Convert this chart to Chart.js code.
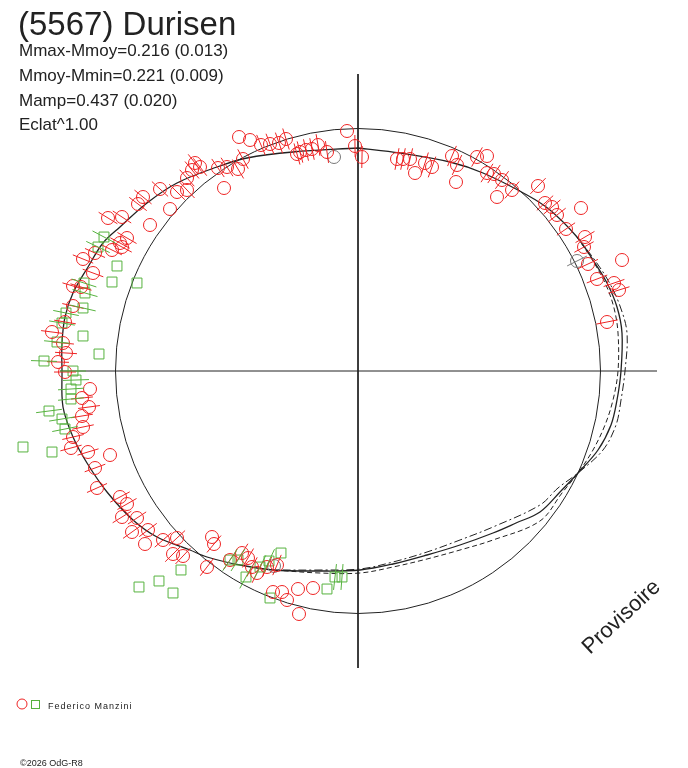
<!DOCTYPE html>
<html lang="fr">
<head>
<meta charset="UTF-8" />
<title>(5567) Durisen</title>
<script src="https://cdn.jsdelivr.net/npm/chart.js@4.4.1/dist/chart.umd.min.js"></script>
<style>
  body { margin: 0; background: #fff; }
  canvas { display: block; }
</style>
</head>
<body>
<canvas id="lc" width="688" height="768"></canvas>
<script>
// polar lightcurve: each point is [x, y, error] in flux units, reference circle = mean flux
const title = "(5567) Durisen";
const infoLines = ["Mmax-Mmoy=0.216 (0.013)", "Mmoy-Mmin=0.221 (0.009)", "Mamp=0.437 (0.020)", "Eclat^1.00"];
const observer = "Federico Manzini";
const stamp = "\u00a92026 OdG-R8";
const refRadius = 2.425;

const redObs = [
  [-1.19,2.34,0],[-1.08,2.31,0],[-0.97,2.26,.11],[-0.88,2.27,.11],[-0.79,2.28,.11],[-0.72,2.32,.11],
  [-0.61,2.17,.11],[-0.58,2.19,.11],[-0.52,2.21,.11],[-0.46,2.22,.11],[-0.40,2.26,.11],[-0.31,2.19,.11],
  [-0.11,2.40,0],[-0.03,2.25,.11],[0.04,2.14,.11],
  [-1.40,2.03,.11],[-1.31,2.04,.11],[-1.20,2.02,.11],[-1.15,2.12,.11],[-1.34,1.83,0],[-1.58,2.04,.11],
  [-1.63,2.08,.11],[-1.66,2.01,.11],[-1.71,1.93,.11],[-1.71,1.81,.11],[-1.81,1.79,.11],[-1.98,1.82,.11],
  [-1.88,1.62,0],[-2.15,1.74,.11],[-2.20,1.67,.11],[-2.08,1.46,0],[-2.50,1.53,.11],[-2.36,1.54,.11],
  [-2.31,1.33,.11],[-2.38,1.28,.11],
  [-2.36,1.24,.11],[-2.46,1.21,.11],[-2.63,1.18,.11],[-2.75,1.12,.11],[-2.65,0.98,.11],[-2.85,0.85,.11],
  [-2.77,0.84,.11],[-2.85,0.65,.11],[-2.93,0.49,.11],[-3.06,0.39,.11],[-2.95,0.28,.11],[-2.92,0.18,.11],
  [-3.00,0.09,.11],[-2.93,-0.01,.11],[-2.68,-0.18,0],[-2.76,-0.27,.11],[-2.69,-0.36,.11],[-2.76,-0.45,.11],
  [-2.75,-0.56,.11],[-2.85,-0.66,.11],[-2.87,-0.77,.11],[-2.70,-0.81,.11],[-2.48,-0.84,0],[-2.63,-0.97,.11],
  [-2.61,-1.17,.11],[-2.38,-1.26,.11],[-2.31,-1.33,.11],[-2.36,-1.46,.11],[-2.21,-1.47,.11],[-2.26,-1.61,.11],
  [-2.10,-1.59,.11],[-2.13,-1.73,0],[-1.95,-1.69,.11],[-1.81,-1.67,.11],[-1.85,-1.83,.11],[-1.75,-1.85,.11],
  [-1.46,-1.66,0],[-1.44,-1.73,.11],[-1.51,-1.96,.11],[-1.28,-1.89,.11],[-1.16,-1.82,.11],[-1.10,-1.87,.11],
  [-1.06,-1.96,.11],[-1.01,-2.02,.11],[-0.91,-1.96,.11],[-0.81,-1.94,.11],[-0.85,-2.21,0],[-0.76,-2.21,0],
  [-0.71,-2.29,0],[-0.60,-2.18,0],[-0.45,-2.17,0],[-0.59,-2.43,0],
  [0.39,2.12,.11],[0.45,2.12,.11],[0.52,2.12,.11],[0.57,1.98,0],[0.67,2.08,.11],[0.74,2.04,.11],
  [0.94,2.15,.11],[0.99,2.06,.11],[0.98,1.89,0],[1.19,2.14,.11],[1.29,2.15,0],[1.29,1.98,.11],
  [1.36,1.97,.11],[1.44,1.91,.11],[1.39,1.74,0],[1.54,1.81,.11],[1.80,1.85,.11],[1.87,1.68,.11],
  [1.94,1.64,.11],[1.99,1.56,.11],[2.23,1.63,0],[2.08,1.42,.11],[2.27,1.34,.11],[2.26,1.24,.11],
  [2.30,1.07,.11],[2.64,1.11,0],[2.39,0.92,.11],[2.56,0.88,.11],[2.61,0.81,.11],[2.49,0.49,.11]
];

const grayObs = [[-0.24,2.14,0],[2.19,1.10,.11],[-0.84,-1.95,0]];

const greenObs = [
  [-2.54,1.34,.13],[-2.60,1.24,.13],[-2.41,1.05,0],[-2.46,0.89,0],[-2.21,0.88,0],[-2.74,0.88,.13],
  [-2.73,0.78,.13],[-2.75,0.63,.13],[-2.92,0.58,.13],[-2.96,0.48,.13],[-2.75,0.35,0],[-3.01,0.29,.13],
  [-2.59,0.17,0],[-3.14,0.10,.13],[-2.85,0.00,.13],[-2.82,-0.09,.13],[-2.87,-0.18,.13],[-2.87,-0.28,.13],
  [-3.09,-0.40,.13],[-2.96,-0.48,.13],[-2.93,-0.58,.13],[-3.35,-0.76,0],[-3.06,-0.81,0],
  [-1.77,-1.99,0],[-1.99,-2.10,0],[-2.19,-2.16,0],[-1.85,-2.22,0],[-1.28,-1.89,.13],[-1.20,-1.89,.13],
  [-1.12,-2.06,.13],[-0.98,-1.96,.13],[-0.89,-1.90,.13],[-0.77,-1.82,0],[-0.88,-2.27,0],
  [-0.31,-2.18,0],[-0.23,-2.06,.13],[-0.16,-2.06,.13]
];

// fitted model (closed curve) and the two error envelopes where they split
const modelMain = [
  [0,2.23],[0.42,2.18],[0.92,2.09],[1.25,1.98],[1.69,1.76],[1.92,1.61],[2.19,1.34],[2.35,1.11],
  [2.49,0.88],[2.59,0.64],[2.64,0.38],[2.63,0],[2.59,-0.29],[2.53,-0.54],[2.40,-0.79],[2.20,-1.02],
  [2.02,-1.21],[1.82,-1.41],[1.58,-1.52],[1.35,-1.62],[1.02,-1.74],[0.69,-1.84],[0.35,-1.93],[0.02,-1.99],
  [-0.38,-2.00],[-0.85,-1.99],[-1.18,-1.94],[-1.51,-1.86],[-1.68,-1.79],[-2.01,-1.66],[-2.25,-1.49],
  [-2.51,-1.21],[-2.71,-0.92],[-2.85,-0.66],[-2.95,-0.36],[-2.96,0.01],[-2.96,0.28],[-2.93,0.54],
  [-2.85,0.78],[-2.70,1.04],[-2.55,1.28],[-2.38,1.44],[-2.11,1.68],[-1.81,1.88],[-1.41,2.04],
  [-1.11,2.13],[-0.65,2.19],[0,2.23]
];
const modelLow = [
  [2.19,1.34],[2.35,1.10],[2.48,0.86],[2.56,0.63],[2.60,0.38],[2.60,0],[2.55,-0.29],[2.47,-0.54],
  [2.35,-0.79],[2.20,-1.02],[2.04,-1.22],[1.82,-1.50],[1.35,-1.69],[1.02,-1.79],[0.69,-1.88],
  [0.35,-1.96],[0.02,-2.02],[-0.38,-2.02],[-0.85,-1.99]
];
const modelHigh = [
  [2.19,1.34],[2.36,1.12],[2.51,0.89],[2.62,0.65],[2.69,0.38],[2.67,0],[2.63,-0.29],[2.58,-0.54],
  [2.45,-0.79],[2.20,-1.02],[2.00,-1.17],[1.82,-1.34],[1.35,-1.56],[1.02,-1.69],[0.69,-1.81],
  [0.35,-1.91],[0.02,-1.98],[-0.38,-1.99],[-0.85,-1.99]
];
const axisH = [[-2.98,0],[2.99,0]];
const axisV = [[0,2.97],[0,-2.97]];

const RED = "rgb(238,36,36)";
const GREEN = "rgb(86,178,62)";
const GRAY = "rgb(120,120,120)";
const INK = "#222";

const pts = (arr) => arr.map(p => ({ x: p[0], y: p[1], e: p[2] || 0 }));

function obsSet(arr, color, style, r) {
  return {
    data: pts(arr), showLine: false, pointStyle: style, pointRadius: r,
    pointBorderColor: color, pointBackgroundColor: "rgba(0,0,0,0)", pointBorderWidth: 1
  };
}
function lineSet(arr, dash, width, tension) {
  return {
    data: pts(arr), showLine: true, pointRadius: 0, borderColor: INK, borderWidth: width,
    borderDash: dash, tension: tension, fill: false
  };
}

// radial error bars and the reference circle, through the scales
const extras = {
  id: "extras",
  beforeDatasetsDraw(chart) {
    const { ctx, scales: { x, y } } = chart;
    const cx = x.getPixelForValue(0), cy = y.getPixelForValue(0);
    ctx.save();
    ctx.strokeStyle = INK;
    ctx.lineWidth = 1;
    ctx.beginPath();
    ctx.arc(cx, cy, x.getPixelForValue(refRadius) - cx, 0, Math.PI * 2);
    ctx.stroke();
    ctx.restore();
  },
  afterDatasetsDraw(chart) {
    const { ctx, scales: { x, y } } = chart;
    ctx.save();
    ctx.lineWidth = 1;
    chart.data.datasets.forEach(ds => {
      if (ds.showLine) return;
      ctx.strokeStyle = ds.pointBorderColor;
      ds.data.forEach(p => {
        if (!p.e) return;
        const r = Math.hypot(p.x, p.y);
        const ux = p.x / r, uy = p.y / r;
        ctx.beginPath();
        ctx.moveTo(x.getPixelForValue(p.x - ux * p.e), y.getPixelForValue(p.y - uy * p.e));
        ctx.lineTo(x.getPixelForValue(p.x + ux * p.e), y.getPixelForValue(p.y + uy * p.e));
        ctx.stroke();
      });
    });
    ctx.restore();
  },
  afterDraw(chart) {
    const ctx = chart.ctx;
    const fam = '"Liberation Sans", Arial, sans-serif';
    ctx.save();
    ctx.fillStyle = INK;
    ctx.textBaseline = "alphabetic";
    ctx.font = "33px " + fam;
    ctx.fillText(title, 18, 35);
    ctx.font = "17px " + fam;
    [56, 81, 106, 130].forEach((b, i) => ctx.fillText(infoLines[i], 19, b));

    ctx.save();
    ctx.translate(590, 655);
    ctx.rotate(-43 * Math.PI / 180);
    ctx.font = "22px " + fam;
    ctx.fillText("Provisoire", 0, 0);
    ctx.restore();

    // legend
    ctx.lineWidth = 1;
    ctx.strokeStyle = RED;
    ctx.beginPath();
    ctx.arc(22, 704, 5, 0, Math.PI * 2);
    ctx.stroke();
    ctx.strokeStyle = GREEN;
    ctx.strokeRect(31.5, 700.5, 8, 8);
    ctx.font = "9px " + fam;
    ctx.letterSpacing = "1px";
    ctx.fillText(observer, 48, 709);
    ctx.letterSpacing = "0px";
    ctx.fillText(stamp, 20, 766);
    ctx.restore();
  }
};

new Chart(document.getElementById("lc"), {
  type: "scatter",
  data: {
    datasets: [
      obsSet(redObs, RED, "circle", 6.5),
      obsSet(grayObs, GRAY, "circle", 6.5),
      obsSet(greenObs, GREEN, "rect", 7),
      lineSet(modelMain, [], 1.3, 0.35),
      lineSet(modelLow, [5, 3], 1, 0.35),
      lineSet(modelHigh, [8, 3, 2, 3], 1, 0.35),
      lineSet(axisH, [], 1, 0),
      lineSet(axisV, [], 1, 0)
    ]
  },
  options: {
    responsive: false,
    animation: false,
    devicePixelRatio: 1,
    layout: { padding: 0, autoPadding: false },
    events: [],
    plugins: { legend: { display: false }, tooltip: { enabled: false }, title: { display: false } },
    scales: {
      x: { type: "linear", min: -3.58, max: 3.30, display: false },
      y: { type: "linear", min: -3.97, max: 3.71, display: false }
    }
  },
  plugins: [extras]
});
</script>
</body>
</html>
